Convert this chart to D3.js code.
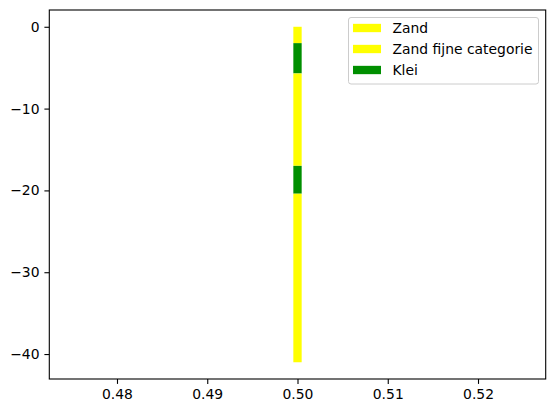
<!DOCTYPE html>
<html>
  <head>
    <meta charset="utf-8">
    <title>Boorprofiel</title>
    <script src="https://cdn.jsdelivr.net/npm/d3@7"></script>
    <style>
      body { margin: 0; background: #fff; }
      text { font-family: "DejaVu Sans", sans-serif; font-size: 13.9px; fill: #000; }
      .axis path, .axis line { stroke: #000; stroke-width: 1.1; }
    </style>
  </head>
  <body>
    <div id="chart"></div>
    <script>
      // layer boundaries (depth in m), one entry per layer
      var layerTop = [0, -2.0, -5.7, -17.0, -20.4];
      var layerBottom = [-2.0, -5.7, -17.0, -20.4, -41.0];
      var layerSoil = ['Zand', 'Klei', 'Zand fijne categorie', 'Klei', 'Zand fijne categorie'];
      var layerX = 0.5;

      var soilNames = ['Zand', 'Zand fijne categorie', 'Klei'];
      var soilColors = ['#ffff00', '#ffff00', '#008f00'];

      var xTicks = [0.48, 0.49, 0.50, 0.51, 0.52];
      var yTicks = [0, -10, -20, -30, -40];

      var width = 554, height = 413;
      var margin = {top: 10, right: 8.3, bottom: 34, left: 49.3};

      var color = d3.scaleOrdinal().domain(soilNames).range(soilColors);

      var x = d3.scaleLinear()
        .domain([0.4725, 0.5275])
        .range([margin.left, width - margin.right]);

      var y = d3.scaleLinear()
        .domain([2.05, -43.05])
        .range([margin.top, height - margin.bottom]);

      var svg = d3.select('#chart').append('svg')
        .attr('width', width)
        .attr('height', height);

      var layers = layerTop.map(function(t, i) {
        return {top: t, bottom: layerBottom[i], soil: layerSoil[i]};
      });

      // thick line per layer, 6pt wide
      svg.append('g').selectAll('line')
        .data(layers)
        .enter().append('line')
        .attr('x1', x(layerX))
        .attr('x2', x(layerX))
        .attr('y1', function(d) { return y(d.top); })
        .attr('y2', function(d) { return y(d.bottom); })
        .attr('stroke', function(d) { return color(d.soil); })
        .attr('stroke-width', 8.33);

      var fmtMinus = function(v) { return (v < 0 ? '\u2212' : '') + Math.abs(v); };

      var xAxis = svg.append('g')
        .attr('class', 'axis')
        .attr('transform', 'translate(0,' + (height - margin.bottom) + ')')
        .call(d3.axisBottom(x).tickValues(xTicks).tickFormat(d3.format('.2f'))
          .tickSize(4.9).tickPadding(4.9).tickSizeOuter(0));

      var yAxis = svg.append('g')
        .attr('class', 'axis')
        .attr('transform', 'translate(' + margin.left + ',0)')
        .call(d3.axisLeft(y).tickValues(yTicks).tickFormat(fmtMinus)
          .tickSize(4.9).tickPadding(4.9).tickSizeOuter(0));

      svg.selectAll('.axis text').style('font-size', '13.9px').attr('font-family', null);
      svg.selectAll('.axis .domain').remove();

      // frame
      svg.append('rect')
        .attr('x', margin.left)
        .attr('y', margin.top)
        .attr('width', width - margin.left - margin.right)
        .attr('height', height - margin.top - margin.bottom)
        .attr('fill', 'none')
        .attr('stroke', '#000')
        .attr('stroke-width', 1.1);

      // legend
      var legend = svg.append('g').attr('transform', 'translate(348.5,17.5)');
      legend.append('rect')
        .attr('width', 190)
        .attr('height', 66.5)
        .attr('rx', 2.5)
        .attr('fill', '#fff')
        .attr('fill-opacity', 0.8)
        .attr('stroke', '#cccccc')
        .attr('stroke-width', 1);

      var item = legend.selectAll('.legend')
        .data(soilNames)
        .enter().append('g')
        .attr('class', 'legend')
        .attr('transform', function(d, i) { return 'translate(0,' + (10.5 + i * 21) + ')'; });

      item.append('line')
        .attr('x1', 4.5)
        .attr('x2', 32.5)
        .attr('stroke', color)
        .attr('stroke-width', 8.33);

      item.append('text')
        .attr('x', 44)
        .attr('dy', '0.35em')
        .text(function(d) { return d; });
    </script>
  </body>
</html>
